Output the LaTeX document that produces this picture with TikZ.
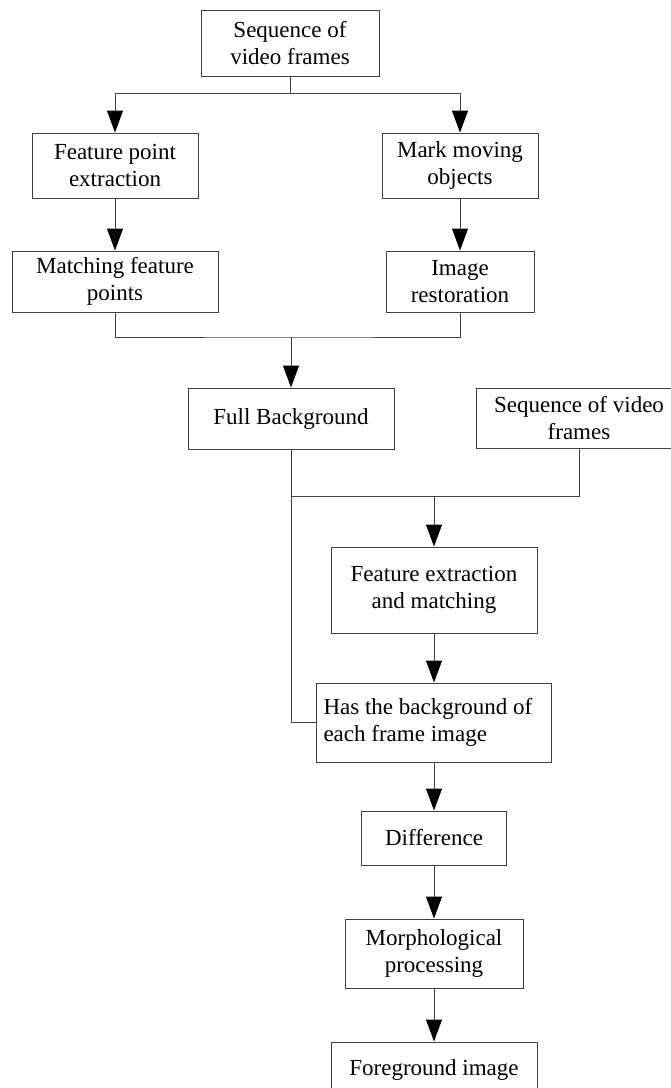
\documentclass[tikz,border=0pt]{standalone}
\usepackage{fontspec}
\setmainfont{Liberation Serif}
\usetikzlibrary{
  arrows.meta,
}

\begin{document}
\begin{tikzpicture}[x=1pt, y=-1pt,
  box/.style={draw=black!75, line width=1pt, align=center, inner sep=0pt,
    font=\fontsize{23}{27}\selectfont},
  wire/.style={draw=black!75, line width=1pt},
  flow/.style={wire, -{Triangle[length=22pt, width=16pt, color=black]}},
]
\useasboundingbox (0,0) rectangle (671,1088);
\clip (0,0) rectangle (671,1088);
\fill[white] (0,0) rectangle (671,1088);

\node[box, minimum width=178pt, minimum height=66pt] (frames) at (290,43) {Sequence of\\video frames};
\node[box, minimum width=166pt, minimum height=65pt] (fpe) at (115,165.5) {Feature point\\extraction};
\node[box, minimum width=156pt, minimum height=65pt] (mmo) at (460,165.5) {Mark moving\\objects};
\node[box, minimum width=206pt, minimum height=61pt] (mfp) at (115,281.5) {Matching feature\\points};
\node[box, minimum width=148pt, minimum height=61pt] (restore) at (460,281.5) {Image\\restoration};
\node[box, minimum width=206pt, minimum height=61pt] (fullbg) at (291,418.5) {Full Background};
\node[box, minimum width=206pt, minimum height=60pt] (frames2) at (579,418) {Sequence of video\\frames};
\node[box, minimum width=206pt, minimum height=86pt] (fem) at (434,590) {Feature extraction\\and matching};
\node[box, align=flush left, text width=221pt, inner xsep=7pt, minimum height=79pt] (hasbg) at (434,722.5) {Has the background of\\each frame image};
\node[box, minimum width=145pt, minimum height=54pt] (diff) at (434,838) {Difference};
\node[box, minimum width=178pt, minimum height=69pt] (morph) at (434,953.5) {Morphological\\processing};
\node[box, minimum width=206pt, minimum height=56pt] (fg) at (434,1070) {Foreground image};

\coordinate (split) at (290,93);
\coordinate (merge) at (291,337);
\coordinate (fork) at (291,496);

\draw[wire] (frames.south) -- (split);
\draw[flow] (split) -| (fpe.north);
\draw[flow] (split) -| (mmo.north);
\draw[flow] (fpe) -- (mfp);
\draw[flow] (mmo) -- (restore);
\draw[wire] (mfp.south) |- (merge) -| (restore.south);
\draw[flow] (merge) -- (fullbg.north);
\draw[wire] (fullbg.south) -- (fork) -| (frames2.south);
\draw[flow] (fem.north |- fork) -- (fem.north);
\draw[wire] (fork) |- (hasbg.west);
\draw[flow] (fem) -- (hasbg);
\draw[flow] (hasbg) -- (diff);
\draw[flow] (diff) -- (morph);
\draw[flow] (morph) -- (fg);
\end{tikzpicture}
\end{document}
